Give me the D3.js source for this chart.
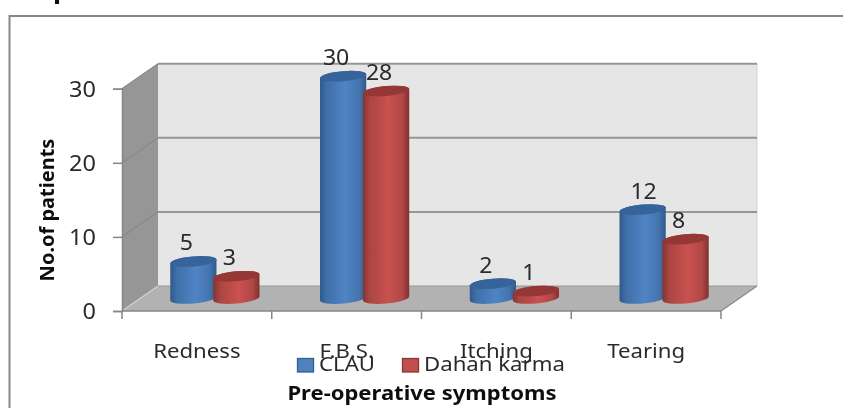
<!DOCTYPE html>
<html><head><meta charset="utf-8">
<script src="https://cdn.jsdelivr.net/npm/d3@7/dist/d3.min.js"></script>
<style>html,body{margin:0;background:#fff}svg{display:block}
text{font-family:"Noto Sans",sans-serif;fill:#2b2b2b}</style></head>
<body><svg id="c" width="843" height="408"></svg>
<script>
const categories = ["Redness","F.B.S.","Itching","Tearing"];
const seriesNames = ["CLAU","Dahan karma"];
const clau = [5,30,2,12];
const dahan = [3,28,1,8];
const yTicks = [0,10,20,30];
const xTitle = "Pre-operative symptoms";
const yTitle = "No.of patients";

const svg = d3.select("#c");
const defs = svg.append("defs");
defs.append("filter").attr("id","soft").attr("x","-5%").attr("y","-5%").attr("width","110%").attr("height","110%")
  .append("feGaussianBlur").attr("stdDeviation",0.4);
function grad(id,stops){
  const g = defs.append("linearGradient").attr("id",id);
  stops.forEach(([o,c])=>g.append("stop").attr("offset",o).attr("stop-color",c));
}
grad("gBlue",[[0,"#2f5a8c"],[.14,"#3f6fa8"],[.55,"#5084c4"],[.85,"#4474ae"],[1,"#2f5a8c"]]);
grad("gRed",[[0,"#853230"],[.14,"#aa4542"],[.55,"#c9524f"],[.85,"#b04846"],[1,"#7f302e"]]);
const colors = [{body:"url(#gBlue)",top:"#36639a",sw:"#4f81bd",swS:"#385d8a"},
                {body:"url(#gRed)",top:"#953735",sw:"#c0504d",swS:"#8c3836"}];

const root = svg.append("g").attr("filter","url(#soft)");
const L=122,R=721,B=311,T=88.7,dx=36,dy=-25;
const x = d3.scaleBand().domain(categories).range([L,R]);
const y = d3.scaleLinear().domain([0,30]).range([B,T]);

// wide text helper: the reference's lettering is stretched horizontally
function wide(parent,tx,ty,str,size,sx,anchor){
  return parent.append("text").attr("transform",`translate(${tx},${ty}) scale(${sx},1)`)
    .attr("text-anchor",anchor||"middle").attr("font-size",size).text(str);
}

// frame and cropped heading
root.append("path").attr("d","M9.5,410V16H845").attr("fill","none").attr("stroke","#888").attr("stroke-width",2);
root.append("text").attr("x",53).attr("y",-2).attr("font-size",27).attr("font-weight",700).style("fill","#111").text("p");

// 3D walls
const poly=(pts,fill)=>root.append("polygon").attr("points",pts.join(" ")).attr("fill",fill);
poly([[L+dx,y(30)+dy],[R+dx,y(30)+dy],[R+dx,B+dy],[L+dx,B+dy]],"#e6e6e6");
poly([[L,B],[L+dx,B+dy],[L+dx,y(30)+dy],[L,y(30)]],"#969696");
poly([[L,B],[R,B],[R+dx,B+dy],[L+dx,B+dy]],"#b2b2b2");
root.append("line").attr("x1",R+dx).attr("x2",R+dx).attr("y1",y(30)+dy).attr("y2",B+dy).attr("stroke","#d2d2d2");

// gridlines on wall
yTicks.forEach(t=>{
  root.append("line").attr("x1",L+dx).attr("x2",R+dx).attr("y1",y(t)+dy).attr("y2",y(t)+dy)
    .attr("stroke","#969696").attr("stroke-width",t===0?1:2);
  root.append("line").attr("x1",L).attr("x2",L+dx).attr("y1",y(t)).attr("y2",y(t)+dy)
    .attr("stroke",t===0?"#d0d0d0":"#8a8a8a").attr("stroke-width",1.3);
});
root.append("line").attr("x1",R).attr("x2",R+dx).attr("y1",B).attr("y2",B+dy).attr("stroke","#8a8a8a").attr("stroke-width",1.3);

// axes
const ax = root.append("g").attr("transform",`translate(0,${B})`)
  .call(d3.axisBottom(x).tickSize(0).tickPadding(30));
ax.select(".domain").remove();
ax.selectAll("text").attr("font-size",20).attr("dy",0).attr("y",0).attr("fill",null)
  .attr("transform","translate(0,47) scale(1.11,1)");
const edges = d3.range(categories.length+1).map(i=>L+i*x.bandwidth());
root.selectAll(".xt").data(edges).join("line").attr("x1",d=>d).attr("x2",d=>d).attr("y1",B).attr("y2",B+8)
  .attr("stroke","#868686").attr("stroke-width",1.5);
root.append("line").attr("x1",L).attr("x2",R).attr("y1",B).attr("y2",B).attr("stroke","#868686").attr("stroke-width",1.5);

const ay = root.append("g").attr("transform",`translate(${L},0)`)
  .call(d3.axisLeft(y).tickValues(yTicks).tickSize(9).tickPadding(16));
ay.select(".domain").attr("stroke","#868686").attr("stroke-width",1.5);
ay.selectAll(".tick line").attr("stroke","#868686").attr("stroke-width",1.5);
ay.selectAll("text").attr("font-size",21).attr("fill",null).attr("x",0).attr("dy","0.38em")
  .attr("transform","translate(-26,0) scale(1.12,1)");

// cylinders
const rx=23.2, ry=5, ang=-5, rad=ang*Math.PI/180, lift=12.5, shift=18;
const cosA=rx*Math.cos(rad), sinA=rx*Math.sin(rad);
function cyl(s,cx,v,c){
  const cy=y(v)-lift, by=y(0)-lift;
  s.append("path").attr("fill",c.body).attr("d",
    `M${cx-cosA},${cy-sinA}L${cx-cosA},${by-sinA}A${rx},${ry} ${ang} 0 0 ${cx+cosA},${by+sinA}L${cx+cosA},${cy+sinA}A${rx},${ry} ${ang} 0 0 ${cx-cosA},${cy-sinA}Z`);
  s.append("ellipse").attr("cx",cx).attr("cy",cy).attr("rx",rx).attr("ry",ry)
    .attr("transform",`rotate(${ang} ${cx} ${cy})`).attr("fill",c.top);
}
const labelNudge = {"Tearing|0":8};
categories.forEach((cat,i)=>{
  const mid=x(cat)+x.bandwidth()/2+shift;
  [clau[i],dahan[i]].forEach((v,k)=>{
    cyl(root,mid+(k===0?-21.5:21.5),v,colors[k]);
  });
});
categories.forEach((cat,i)=>{
  const mid=x(cat)+x.bandwidth()/2+shift;
  [clau[i],dahan[i]].forEach((v,k)=>{
    const cx=mid+(k===0?-21.5:21.5);
    wide(root,cx-7+(labelNudge[cat+"|"+k]||0),y(v)-lift-11,v,21,1.1);
  });
});

// legend
const lgX=[297,402];
seriesNames.forEach((n,k)=>{
  root.append("rect").attr("x",lgX[k]+.5).attr("y",358.5).attr("width",16).attr("height",13.5)
    .attr("fill",colors[k].sw).attr("stroke",colors[k].swS).attr("stroke-width",1.3);
  wide(root,lgX[k]+22,371,n,20,1.11,"start");
});

// titles
wide(root,422,400,xTitle,19.5,1.13).attr("font-weight",700).style("fill","#111");
root.append("text").attr("transform","translate(54,210) rotate(-90)").attr("text-anchor","middle")
  .attr("font-size",20).attr("font-weight",700).style("fill","#111").text(yTitle);
</script></body></html>
